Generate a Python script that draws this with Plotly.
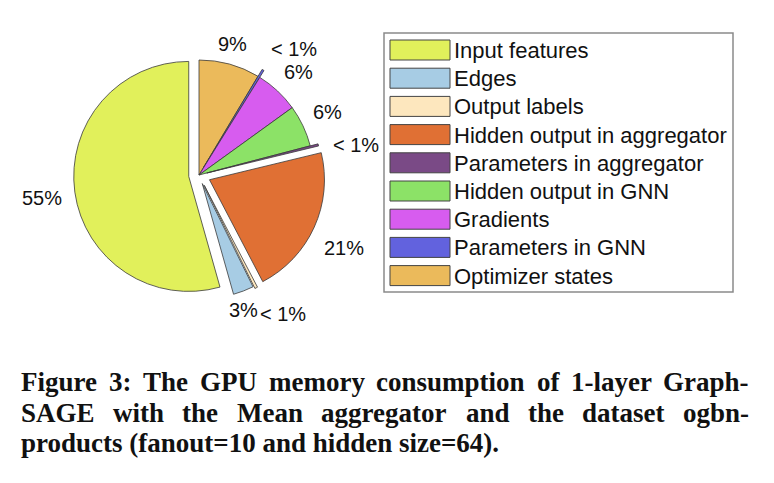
import math
import plotly.graph_objects as go

# ---- data ----
categories = ["Input features", "Edges", "Output labels", "Hidden output in aggregator",
              "Parameters in aggregator", "Hidden output in GNN", "Gradients",
              "Parameters in GNN", "Optimizer states"]
values = [54.6, 2.9, 0.4, 21.2, 0.3, 5.9, 6.2, 0.3, 8.6]
pct_labels = ["55%", "3%", "< 1%", "21%", "< 1%", "6%", "6%", "< 1%", "9%"]
colors = ["#E1F05B", "#A7CCE4", "#FDE7BE", "#E07034", "#7A4A86",
          "#8CE267", "#D75CEF", "#6262DE", "#EBBA5B"]
pulls = [0.09, 0.08, 0.1, 0.1, 0.07, 0.0, 0.0, 0.07, 0.0]

caption_lines = ["Figure 3: The GPU memory consumption of 1-layer Graph-",
                 "SAGE with the Mean aggregator and the dataset ogbn-",
                 "products (fanout=10 and hidden size=64)."]

# ---- layout constants (pixels) ----
W, H = 774, 483
cx, cy, box = 199, 175, 253          # pie centre and domain size
label_k = 1.22                       # label distance (fraction of radius)
label_nudge = [(-8, 2), (-9, -5), (15, 4), (7, 10), (13, 6), (2, -3), (4, 0), (18, 1), (-4, 4)]
LABEL_FONT = dict(family="Liberation Sans, Arial, sans-serif", size=20, color="#111")
LEG_FONT = dict(family="Liberation Sans, Arial, sans-serif", size=22, color="#111")
CAP_FS = 27
CAP_FONT = dict(family="Liberation Serif, Times New Roman, serif", size=CAP_FS, color="#111")


def px(x):
    return x / W


def py(y):
    return 1 - y / H


# Times-Bold advance widths (per 1000 em) used to justify the caption lines
TW = {" ": 250, "(": 333, ")": 333, "-": 333, ".": 250, ":": 333, "=": 570,
      "A": 722, "E": 667, "F": 611, "G": 778, "M": 944, "P": 611, "S": 556, "T": 667, "U": 722,
      "a": 500, "b": 556, "c": 444, "d": 556, "e": 444, "f": 333, "g": 500, "h": 556, "i": 278,
      "l": 278, "m": 833, "n": 556, "o": 500, "p": 556, "r": 444, "s": 389, "t": 333, "u": 556,
      "w": 722, "y": 500, "z": 444}


def tw(s):
    return sum(TW.get(c, 500) for c in s) / 1000 * CAP_FS


fig = go.Figure()
# plotly lays slices clockwise from 12 o'clock -> feed reversed order to get the
# reference's counter-clockwise arrangement
fig.add_trace(go.Pie(
    labels=categories[::-1], values=values[::-1], sort=False, direction="clockwise",
    rotation=0, pull=pulls[::-1], textinfo="none", showlegend=False,
    hoverinfo="label+percent",
    marker=dict(colors=colors[::-1], line=dict(color="#3a3a3a", width=0.8)),
    domain=dict(x=[px(cx - box / 2), px(cx + box / 2)], y=[py(cy + box / 2), py(cy - box / 2)]),
))

annotations = []
shapes = []

# percentage labels, placed along each slice's mid angle
r = box / (2 + 2 * max(pulls))
total = sum(values)
order = list(range(len(values)))[::-1]
ang = 0.0
for i in order:
    span = values[i] / total * 360
    mid = math.radians(ang + span / 2)
    ang += span
    d = (label_k + pulls[i]) * r
    lx = cx + d * math.sin(mid) + label_nudge[i][0]
    ly = cy - d * math.cos(mid) + label_nudge[i][1]
    annotations.append(dict(text=pct_labels[i], x=px(lx), y=py(ly), xref="paper", yref="paper",
                            xanchor="center", yanchor="middle", showarrow=False,
                            font=LABEL_FONT))

# legend box
lx0, ly0, lx1, ly1 = 384, 33, 733, 292
shapes.append(dict(type="rect", xref="paper", yref="paper", x0=px(lx0), x1=px(lx1),
                   y0=py(ly1), y1=py(ly0), line=dict(color="#8a8a8a", width=1.5),
                   fillcolor="white", layer="below"))
pitch = 28.2
for i, (name, col) in enumerate(zip(categories, colors)):
    top = 40 + i * pitch
    shapes.append(dict(type="rect", xref="paper", yref="paper", x0=px(390), x1=px(450),
                       y0=py(top + 20), y1=py(top), fillcolor=col,
                       line=dict(color="#444", width=1)))
    annotations.append(dict(text=name, x=px(452), y=py(top + 10.5), xref="paper", yref="paper",
                            xanchor="left", yanchor="middle", showarrow=False, font=LEG_FONT))

# caption: first two lines justified, last line left aligned
cap_x0, cap_x1 = 19, 747
cap_y = [382, 412.5, 443]
for li, line in enumerate(caption_lines):
    words = line.split(" ")
    if li < 2:
        gap = (cap_x1 - cap_x0 - sum(tw(w) for w in words)) / (len(words) - 1)
        x = cap_x0
        for w in words:
            annotations.append(dict(text="<b>%s</b>" % w, x=px(x), y=py(cap_y[li]),
                                    xref="paper", yref="paper", xanchor="left",
                                    yanchor="middle", showarrow=False, font=CAP_FONT))
            x += tw(w) + gap
    else:
        annotations.append(dict(text="<b>%s</b>" % line, x=px(cap_x0), y=py(cap_y[li]),
                                xref="paper", yref="paper", xanchor="left", yanchor="middle",
                                showarrow=False, font=CAP_FONT))

fig.update_layout(width=W, height=H, margin=dict(l=0, r=0, t=0, b=0),
                  paper_bgcolor="white", plot_bgcolor="white",
                  shapes=shapes, annotations=annotations)

fig.write_html("out.html")
